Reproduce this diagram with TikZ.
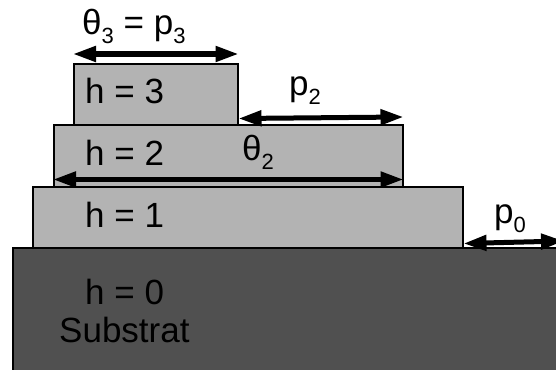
\documentclass[tikz,border=0pt]{standalone}
\usepackage{fontspec}
\setmainfont{Liberation Sans}
\usetikzlibrary{arrows.meta}
\definecolor{lightlayer}{RGB}{179,179,179}
\definecolor{substr}{RGB}{80,80,80}
\newcommand{\lsub}[1]{\raisebox{-9pt}{\fontsize{22}{22}\selectfont #1}}
\begin{document}
\begin{tikzpicture}[x=1pt,y=-1pt,
  layer/.style={draw=black, line width=1.5pt, fill=lightlayer, inner sep=0pt, anchor=north west},
  dim/.style={line width=5pt, {Triangle[length=23pt,width=15pt]}-{Triangle[length=23pt,width=15pt]}},
  lbl/.style={anchor=base west, inner sep=0pt, font=\fontsize{35}{38}\selectfont}]
\useasboundingbox (0,0) rectangle (556,369);
\clip (0,0) rectangle (556,369);
\fill[white] (0,0) rectangle (556,369);
% layers
\node[layer, fill=substr, minimum width=560pt, minimum height=135pt] (b0) at (12,247) {};
\node[layer, minimum width=430pt, minimum height=61pt] (b1) at (32,186) {};
\node[layer, minimum width=349pt, minimum height=62pt] (b2) at (53,124) {};
\node[layer, minimum width=164pt, minimum height=61pt] (b3) at (73,63) {};
% layer texts
\node[lbl] (t3) at (85,103) {h = 3};
\node[lbl] (t2) at (85,165) {h = 2};
\node[lbl] (t1) at (85,227) {h = 1};
\node[lbl] (t0) at (85,304) {h = 0};
\node[lbl] (ts) at (59,342) {Substrat};
% dimension labels
\node[lbl] (lt3) at (82,35) {θ\lsub{3} = p\lsub{3}};
\node[lbl] (lp2) at (289,95) {p\lsub{2}};
\node[lbl] (lth2) at (242,160) {θ\lsub{2}};
\node[lbl] (lp0) at (494,223) {p\lsub{0}};
% dimension arrows
\coordinate (edge) at (564,241);
\draw[dim] ([yshift=9pt]b3.north west) -- ([yshift=9pt]b3.north east);
\draw[dim] ([yshift=7pt]b3.south east) -- ([yshift=7pt]b2.north east);
\draw[dim] ([yshift=8pt]b2.south west) -- ([yshift=8pt]b2.south east);
\draw[dim] ([yshift=5pt]b1.south east) -- (edge);
\end{tikzpicture}
\end{document}
